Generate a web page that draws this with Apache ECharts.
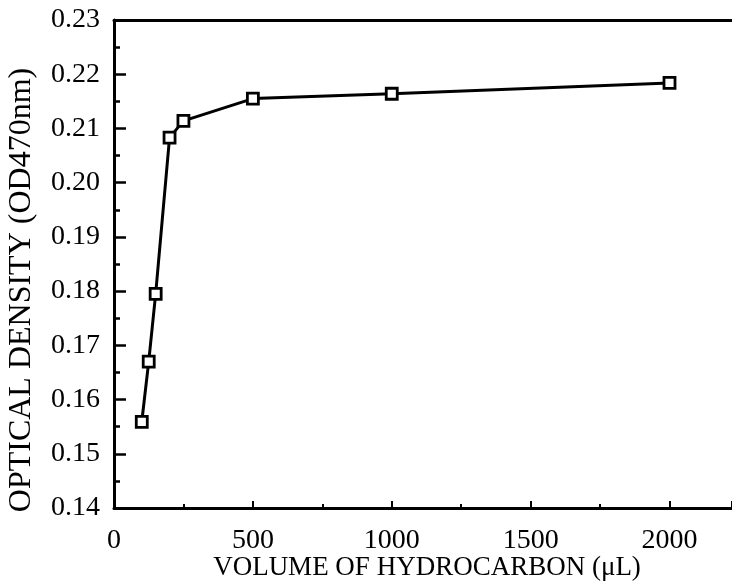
<!DOCTYPE html>
<html>
<head>
<meta charset="utf-8">
<script src="https://cdn.jsdelivr.net/npm/echarts@6/dist/echarts.min.js"></script>
<style>html,body{margin:0;padding:0;background:#fff;}#c{width:732px;height:582px;}</style>
</head>
<body>
<div id="c"></div>
<script>
const volumes = [100, 125, 150, 200, 250, 500, 1000, 2000];
const opticalDensity = [0.1559, 0.1670, 0.1795, 0.2083, 0.2114, 0.2155, 0.2164, 0.2184];
const xTitle = 'VOLUME OF HYDROCARBON (\u03bcL)';
const yTitle = 'OPTICAL DENSITY (OD470nm)';

const font = 'Liberation Serif';
const chart = echarts.init(document.getElementById('c'), null, {renderer: 'canvas'});
chart.setOption({
  backgroundColor: '#fff',
  animation: false,
  grid: {left: 114, top: 20, right: 0, bottom: 74, containLabel: false, outerBoundsMode: 'none'},
  xAxis: [{
    type: 'value', min: 0, max: 2225, interval: 500,
    name: xTitle, nameLocation: 'middle', nameGap: 46, nameMoveOverlap: false,
    nameTextStyle: {fontFamily: font, fontSize: 27, color: '#000', padding: [0, 0, 0, 8]},
    axisLine: {show: true, onZero: false, lineStyle: {color: '#000', width: 3}},
    axisTick: {show: true, inside: true, length: 7, lineStyle: {color: '#000', width: 2}},
    minorTick: {show: true, splitNumber: 2, length: 4, lineStyle: {color: '#000', width: 2}},
    axisLabel: {fontFamily: font, fontSize: 28, color: '#000', margin: 19, showMaxLabel: false,
      formatter: v => String(v)},
    splitLine: {show: false}
  }, {
    type: 'value', position: 'top', min: 0, max: 2225,
    axisLine: {show: true, onZero: false, lineStyle: {color: '#000', width: 3}},
    axisTick: {show: false}, axisLabel: {show: false}, splitLine: {show: false}
  }],
  yAxis: {
    type: 'value', min: 0.14, max: 0.23, interval: 0.01,
    name: yTitle, nameLocation: 'middle', nameGap: 76, nameRotate: 90, nameMoveOverlap: false,
    nameTextStyle: {fontFamily: font, fontSize: 32, color: '#000', padding: [0, 52, 0, 0]},
    axisLine: {show: true, onZero: false, lineStyle: {color: '#000', width: 3}},
    axisTick: {show: true, inside: true, length: 12, lineStyle: {color: '#000', width: 2.5}},
    minorTick: {show: true, splitNumber: 2, length: 6, lineStyle: {color: '#000', width: 2.5}},
    axisLabel: {fontFamily: font, fontSize: 28, color: '#000', margin: 14,
      formatter: v => v.toFixed(2)},
    splitLine: {show: false}
  },
  series: [{
    type: 'line',
    data: volumes.map((v, i) => [v, opticalDensity[i]]),
    symbol: 'rect', symbolSize: 11, showAllSymbol: true,
    lineStyle: {color: '#000', width: 3},
    itemStyle: {color: '#fff', borderColor: '#000', borderWidth: 2.8}
  }]
});
</script>
</body>
</html>
